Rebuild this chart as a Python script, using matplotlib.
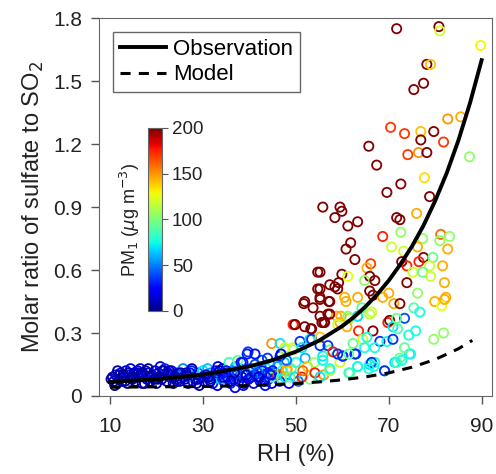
import matplotlib
matplotlib.use("Agg")
import matplotlib.pyplot as plt
from matplotlib import cm, colors

plt.rcParams['font.family'] = ['Liberation Sans', 'DejaVu Sans']

# scatter: RH (%), molar ratio, PM1 (ug m-3)
rh = [10.5, 10.8, 11.2, 11.5, 11.9, 12.3, 12.6, 13.0, 13.4, 13.7, 14.1, 14.4, 14.8, 15.2, 15.5,
      15.9, 16.2, 16.5, 16.9, 17.2, 17.6, 17.9, 18.3, 18.6, 19.0, 19.3, 19.7, 20.0,
      20.4, 20.8, 21.1, 21.5, 21.8, 22.2, 22.5, 22.9, 23.2, 23.6, 23.9, 24.3, 24.6,
      25.0, 25.4, 25.7, 26.1, 26.4, 26.8, 27.1, 27.5, 27.8, 28.2, 28.5, 28.9, 29.2, 29.6, 30.0,
      30.3, 30.7, 31.0, 31.4, 31.7, 32.1, 32.4, 32.8, 33.1, 33.5, 33.8, 34.2, 34.5, 34.9,
      35.2, 35.6, 35.9, 36.3, 36.6, 37.0, 37.3, 37.7, 38.0, 38.4, 38.7, 39.1, 39.5, 39.8,
      40.2, 40.5, 40.9, 41.2, 41.6, 42.0, 42.3, 42.7, 43.0, 43.4, 43.7, 44.1, 44.4, 44.8,
      45.5, 46.0, 46.5, 47.5, 48.5, 49.0, 50.0, 50.5, 52.0, 53.0, 52.5, 54.0, 56.0,
      33.2, 34.3, 35.4, 36.9, 37.5, 38.6, 39.7, 41.2, 41.2, 42.7, 44.0, 44.8, 44.8, 45.0,
      46.1, 46.6, 46.6, 47.0, 47.0, 47.6, 47.6, 47.6, 48.1, 48.1, 48.7, 49.4, 49.4, 49.8,
      49.8, 50.9, 51.3, 51.3, 51.5, 53.0, 53.4, 54.1, 55.2, 55.2, 55.8, 57.3, 57.3, 59.5,
      60.1, 61.6, 62.7, 63.3, 65.9, 67.0, 69.1, 71.3, 72.4, 74.5,
      49.4, 49.8, 51.7, 51.9, 51.9, 53.2, 53.4, 53.7, 54.7, 54.7, 55.6, 56.0, 56.9, 57.1,
      58.8, 59.5, 60.8, 61.6, 63.3, 55.2, 55.8, 58.4, 59.5, 59.9, 61.2, 63.3, 69.6, 61.8,
      60.8, 68.7, 70.6, 71.7, 72.4, 72.6, 73.2, 62.7, 66.1, 65.3, 65.9, 64.8, 67.0, 66.6,
      65.9, 72.8, 55.2, 57.3, 58.4, 59.2, 59.0, 59.9, 55.2, 55.2, 57.3, 60.5, 63.3, 70.0,
      68.7, 71.1, 72.4, 64.2, 66.3, 65.9, 57.3, 56.2, 55.2, 59.7, 61.2, 59.0, 61.0, 63.5,
      66.6, 69.8, 70.2, 70.9, 71.9, 73.4, 71.7, 64.4, 65.3, 62.3, 68.1, 69.6, 70.9, 67.0,
      64.8, 62.9, 55.2, 56.9, 58.0, 59.0, 60.1, 61.4, 55.8, 57.3, 61.4, 63.3, 66.3, 66.8,
      65.7, 69.1, 71.7, 72.8,
      78.8, 76.0, 81.2, 83.1, 81.0, 82.7, 77.3, 76.2, 77.5, 79.5, 76.5, 78.8, 81.6, 73.9,
      75.2, 77.3, 79.0, 73.9, 82.0, 76.2, 82.3, 79.9, 81.4, 75.4, 76.7, 75.8, 74.3, 81.8,
      79.7, 74.7, 73.4, 82.0,
      71.7, 80.8, 81.0, 89.8, 78.2, 79.0, 77.5, 75.4, 82.7, 85.5, 70.4, 73.4, 76.9, 79.7,
      76.9, 81.8, 65.7, 74.1, 76.4, 78.2, 87.4, 67.4, 77.7, 72.6, 55.8, 63.3, 61.2,
      10.2, 11.0, 12.0, 13.2, 14.6, 16.0, 17.4, 18.8, 20.2, 21.6, 23.0, 24.4, 25.8,
      27.2, 28.6, 30.2, 31.6, 33.0, 34.4, 36.0, 37.4, 38.8, 40.4, 41.8, 43.2, 44.6,
      12.8, 15.0, 17.0, 19.5, 21.3, 24.0, 26.5, 29.0, 31.2, 33.6, 36.8, 39.3, 42.0,
      11.6, 14.0, 16.6, 18.2, 20.6, 22.7, 25.2, 27.6, 30.6, 35.0, 38.2, 43.9, 46.8, 48.0]
ratio = [0.09, 0.07, 0.10, 0.06, 0.08, 0.11, 0.07, 0.09, 0.12, 0.06, 0.10, 0.13, 0.08, 0.11, 0.07,
         0.12, 0.09, 0.13, 0.06, 0.10, 0.12, 0.08, 0.11, 0.07, 0.10, 0.09, 0.12, 0.06,
         0.11, 0.14, 0.08, 0.10, 0.13, 0.07, 0.11, 0.09, 0.12, 0.06, 0.10, 0.08, 0.11,
         0.07, 0.10, 0.13, 0.08, 0.11, 0.06, 0.09, 0.12, 0.07, 0.10, 0.08, 0.11, 0.05, 0.09, 0.12,
         0.07, 0.10, 0.13, 0.08, 0.11, 0.06, 0.09, 0.12, 0.05, 0.10, 0.08, 0.13, 0.07, 0.11,
         0.09, 0.16, 0.06, 0.12, 0.08, 0.14, 0.10, 0.07, 0.13, 0.09, 0.05, 0.11, 0.20, 0.08,
         0.13, 0.10, 0.06, 0.15, 0.09, 0.12, 0.07, 0.17, 0.10, 0.05, 0.13, 0.08, 0.15, 0.06,
         0.11, 0.14, 0.07, 0.16, 0.06, 0.13, 0.16, 0.07, 0.18, 0.08, 0.14, 0.16, 0.10,
         0.14, 0.11, 0.08, 0.04, 0.17, 0.16, 0.21, 0.20, 0.10, 0.12, 0.11, 0.09, 0.25, 0.12,
         0.10, 0.25, 0.19, 0.12, 0.08, 0.22, 0.09, 0.23, 0.13, 0.12, 0.09, 0.22, 0.23, 0.09,
         0.34, 0.26, 0.23, 0.09, 0.12, 0.27, 0.27, 0.11, 0.28, 0.09, 0.19, 0.22, 0.12, 0.16,
         0.19, 0.11, 0.20, 0.14, 0.15, 0.16, 0.12, 0.16, 0.18, 0.20,
         0.34, 0.34, 0.44, 0.45, 0.33, 0.32, 0.32, 0.42, 0.59, 0.51, 0.35, 0.35, 0.39, 0.45,
         0.38, 0.35, 0.45, 0.37, 0.38, 0.46, 0.90, 0.85, 0.90, 0.88, 0.81, 0.83, 0.97, 0.73,
         0.70, 0.76, 0.71, 0.85, 0.84, 0.78, 0.69, 0.65, 0.63, 0.61, 0.57, 0.55, 0.55, 0.48,
         0.50, 0.64, 0.59, 0.53, 0.52, 0.54, 0.51, 0.58, 0.51, 0.47, 0.45, 0.47, 0.47, 0.49,
         0.47, 0.44, 0.44, 0.42, 0.40, 0.39, 0.39, 0.35, 0.38, 0.38, 0.38, 0.34, 0.33, 0.31,
         0.31, 0.35, 0.36, 0.33, 0.32, 0.37, 0.37, 0.27, 0.28, 0.25, 0.26, 0.26, 0.27, 0.23,
         0.23, 0.20, 0.24, 0.24, 0.21, 0.20, 0.19, 0.20, 0.17, 0.13, 0.11, 0.14, 0.16, 0.14,
         0.13, 0.12, 0.16, 0.17,
         0.95, 0.87, 0.77, 0.76, 0.74, 0.70, 0.75, 0.71, 0.66, 0.66, 0.64, 0.62, 0.62, 0.62,
         0.59, 0.59, 0.57, 0.54, 0.54, 0.49, 0.47, 0.45, 0.43, 0.42, 0.40, 0.31, 0.29, 0.30,
         0.27, 0.20, 0.23, 0.46,
         1.75, 1.76, 1.74, 1.67, 1.58, 1.58, 1.49, 1.46, 1.32, 1.33, 1.28, 1.25, 1.26, 1.26,
         1.22, 1.21, 1.19, 1.15, 1.16, 1.16, 1.14, 1.10, 1.04, 1.01, 0.17, 0.38, 0.57,
         0.08, 0.05, 0.10, 0.07, 0.09, 0.11, 0.06, 0.09, 0.08, 0.12, 0.10, 0.07, 0.09,
         0.11, 0.06, 0.09, 0.07, 0.11, 0.09, 0.07, 0.11, 0.06, 0.09, 0.11, 0.07, 0.10,
         0.10, 0.09, 0.11, 0.08, 0.12, 0.09, 0.10, 0.08, 0.09, 0.12, 0.11, 0.10, 0.09,
         0.12, 0.11, 0.10, 0.13, 0.09, 0.12, 0.11, 0.13, 0.10, 0.12, 0.16, 0.18, 0.20, 0.17]
pm = [12, 6, 16, 4, 10, 20, 6, 14, 24, 4, 12, 18, 8, 15, 5,
      20, 10, 14, 6, 16, 9, 12, 24, 7, 14, 30, 10, 5,
      18, 22, 9, 12, 35, 6, 15, 10, 20, 7, 28, 14, 16,
      10, 40, 50, 20, 14, 8, 55, 30, 12, 62, 18, 45, 6, 25, 68,
      25, 42, 62, 18, 55, 30, 45, 20, 15, 38, 68, 25, 40, 58,
      22, 85, 30, 48, 18, 60, 35, 25, 52, 15, 28, 40, 30, 20,
      45, 62, 25, 38, 18, 55, 30, 42, 22, 28, 75, 35, 50, 20,
      40, 55, 30, 65, 25, 95, 80, 45, 60, 100, 140, 110, 150,
      20, 25, 30, 22, 95, 30, 35, 28, 35, 30, 30, 95, 150, 30,
      170, 70, 30, 80, 85, 110, 70, 120, 145, 145, 95, 110, 120, 70,
      175, 35, 70, 175, 160, 70, 35, 175, 140, 70, 70, 95, 110, 120,
      35, 95, 35, 70, 70, 75, 70, 70, 95, 70,
      175, 200, 200, 200, 200, 200, 200, 200, 200, 200, 200, 200, 200, 200,
      145, 145, 145, 105, 105, 200, 200, 200, 200, 200, 200, 200, 200, 200,
      200, 175, 120, 200, 200, 105, 120, 200, 170, 145, 200, 105, 200, 200,
      200, 200, 200, 200, 200, 200, 200, 200, 200, 200, 200, 145, 145, 145,
      145, 145, 200, 90, 120, 115, 200, 200, 200, 145, 105, 120, 145, 175,
      200, 175, 200, 70, 90, 40, 95, 120, 75, 95, 35, 75, 35, 75,
      75, 35, 35, 35, 175, 35, 35, 95, 75, 75, 85, 75, 35, 75,
      75, 35, 85, 75,
      200, 145, 160, 105, 105, 145, 105, 145, 200, 95, 175, 120, 145, 175,
      120, 95, 120, 200, 145, 105, 145, 145, 125, 90, 75, 75, 75, 105,
      105, 75, 95, 145,
      200, 200, 120, 130, 200, 140, 200, 200, 150, 145, 170, 170, 140, 200,
      200, 170, 200, 170, 150, 200, 105, 200, 135, 200, 75, 70, 125,
      8, 4, 10, 6, 9, 14, 5, 12, 8, 18, 10, 6, 14,
      24, 8, 20, 10, 32, 14, 10, 38, 8, 24, 42, 12, 28,
      3, 4, 5, 3, 6, 4, 4, 6, 5, 8, 7, 10, 12,
      5, 7, 9, 6, 4, 10, 8, 12, 15, 30, 28, 35, 25, 45]

# fitted curves
obs_rh = [10, 20, 30, 40, 45, 50, 55, 60, 62.5, 65, 67.5, 70, 72.5, 75, 77.5, 80, 82.5, 85, 87.5, 90]
obs_ratio = [0.067, 0.080, 0.102, 0.141, 0.171, 0.211, 0.264, 0.333, 0.376, 0.426, 0.484, 0.550,
             0.627, 0.713, 0.813, 0.930, 1.063, 1.218, 1.396, 1.60]
mod_rh = [10, 30, 40, 50, 55, 60, 65, 70, 75, 80, 85, 88]
mod_ratio = [0.042, 0.045, 0.050, 0.059, 0.067, 0.077, 0.091, 0.110, 0.137, 0.174, 0.225, 0.265]

fig = plt.figure(figsize=(4.96, 4.74), dpi=100)
ax = fig.add_axes([0.1996, 0.1646, 0.792, 0.797])

norm = colors.Normalize(vmin=0, vmax=200)
cmap = plt.get_cmap('jet')
ax.scatter(rh, ratio, s=44, facecolors='none', edgecolors=cmap(norm(pm)), linewidths=1.3)
ax.plot(obs_rh, obs_ratio, c='k', lw=2.8, label='Observation')
ax.plot(mod_rh, mod_ratio, c='k', lw=2.2, ls=(0, (3.3, 2.7)), label='Model')

ax.set_xlim(7.6, 92.2)
ax.set_ylim(0, 1.8)
ax.set_xticks([10, 30, 50, 70, 90])
ax.set_yticks([0, 0.3, 0.6, 0.9, 1.2, 1.5, 1.8])
ax.set_yticklabels(['0', '0.3', '0.6', '0.9', '1.2', '1.5', '1.8'])
ax.tick_params(direction='out', length=6, width=1, colors='#555555', labelcolor='#222222', labelsize=15)
ax.tick_params(axis='x', pad=9)
ax.tick_params(axis='y', pad=6)
for sp in ax.spines.values():
    sp.set_color('#666666')
ax.set_xlabel('RH (%)', fontsize=17, color='#222222', labelpad=6)
ax.set_ylabel('Molar ratio of sulfate to SO$_2$', fontsize=17, color='#222222', labelpad=5)

leg = ax.legend(loc='upper left', bbox_to_anchor=(0.036, 0.963), borderaxespad=0, fontsize=16,
                handlelength=2.1, handletextpad=0.3, labelspacing=0.2, borderpad=0.3,
                fancybox=False, framealpha=1)
leg.get_frame().set_edgecolor('#666666')

cax = fig.add_axes([0.298, 0.344, 0.028, 0.386])
cb = fig.colorbar(cm.ScalarMappable(norm=norm, cmap=cmap), cax=cax, ticks=[0, 50, 100, 150, 200])
cb.outline.set_edgecolor('#666666')
cax.tick_params(direction='out', length=4, colors='#555555', labelcolor='#222222', labelsize=13.5)
cax.yaxis.set_label_position('left')
cb.set_label('PM$_1$ ($\\mu$g m$^{-3}$)', fontsize=13, color='#222222', labelpad=4)

fig.savefig('out.png', dpi=100)
